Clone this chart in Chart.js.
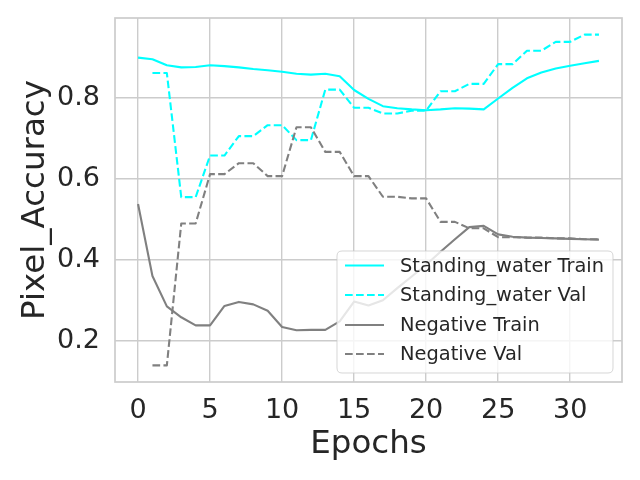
<!DOCTYPE html>
<html>
<head>
<meta charset="utf-8">
<script src="https://cdn.jsdelivr.net/npm/chart.js@4.4.1/dist/chart.umd.min.js"></script>
<style>
  html, body { margin: 0; padding: 0; background: #ffffff; }
  #c { display: block; }
</style>
</head>
<body>
<canvas id="c" width="640" height="480"></canvas>
<script>
const epochs = [0,1,2,3,4,5,6,7,8,9,10,11,12,13,14,15,16,17,18,19,20,21,22,23,24,25,26,27,28,29,30,31,32];
const valEpochs = [1,2,3,4,5,6,7,8,9,10,11,12,13,14,15,16,17,18,19,20,21,22,23,24,25,26,27,28,29,30,31,32];

const standingWaterTrain = [0.900,0.896,0.881,0.876,0.877,0.881,0.879,0.876,0.872,0.869,0.865,0.860,0.858,0.860,0.854,0.820,0.798,0.780,0.775,0.772,0.770,0.772,0.775,0.774,0.772,0.799,0.825,0.849,0.863,0.873,0.880,0.886,0.892];
const standingWaterVal = [0.862,0.862,0.555,0.555,0.658,0.658,0.706,0.706,0.733,0.733,0.696,0.696,0.821,0.821,0.776,0.776,0.762,0.762,0.769,0.769,0.817,0.817,0.835,0.835,0.884,0.884,0.917,0.917,0.939,0.939,0.957,0.957];
const negativeTrain = [0.538,0.360,0.285,0.258,0.238,0.238,0.286,0.296,0.290,0.274,0.234,0.226,0.227,0.227,0.248,0.297,0.287,0.300,0.330,0.359,0.388,0.420,0.451,0.481,0.484,0.463,0.457,0.455,0.454,0.453,0.452,0.451,0.450];
const negativeVal = [0.139,0.139,0.490,0.490,0.612,0.612,0.639,0.639,0.607,0.607,0.728,0.728,0.667,0.667,0.607,0.607,0.556,0.556,0.552,0.552,0.494,0.494,0.478,0.478,0.456,0.456,0.455,0.455,0.453,0.453,0.451,0.451];

const seriesLabels = ['Standing_water Train', 'Standing_water Val', 'Negative Train', 'Negative Val'];
const xTickValues = [0,5,10,15,20,25,30];
const yTickValues = [0.2,0.4,0.6,0.8];
const xTitle = 'Epochs';
const yTitle = 'Pixel_Accuracy';

const FONT = "'DejaVu Sans', 'Liberation Sans', sans-serif";
const TEXT = '#262626';
const GRID = '#cccccc';
const CYAN = '#00ffff';
const GRAY = '#808080';
const DASH = [7.7, 3.3];

function pts(xs, ys) { return xs.map((x, i) => ({ x: x, y: ys[i] })); }

const datasets = [
  { label: seriesLabels[0], data: pts(epochs, standingWaterTrain), borderColor: CYAN, borderDash: [], order: 4 },
  { label: seriesLabels[1], data: pts(valEpochs, standingWaterVal), borderColor: CYAN, borderDash: DASH, order: 3 },
  { label: seriesLabels[2], data: pts(epochs, negativeTrain), borderColor: GRAY, borderDash: [], order: 2 },
  { label: seriesLabels[3], data: pts(valEpochs, negativeVal), borderColor: GRAY, borderDash: DASH, order: 1 }
].map(d => Object.assign(d, {
  borderWidth: 2.1, pointRadius: 0, pointHoverRadius: 0, tension: 0, fill: false,
  borderJoinStyle: 'round', borderCapStyle: 'butt'
}));

const frameAndLegend = {
  id: 'frameAndLegend',
  afterDatasetsDraw(chart) {
    const ctx = chart.ctx;
    const a = chart.chartArea;
    ctx.save();
    ctx.strokeStyle = GRID;
    ctx.lineWidth = 1.7;
    ctx.strokeRect(a.left, a.top, a.right - a.left, a.bottom - a.top);

    // legend box (inside plot, lower right)
    const bx = 337, by = 251, bw = 276, bh = 122, r = 5;
    ctx.beginPath();
    ctx.moveTo(bx + r, by);
    ctx.lineTo(bx + bw - r, by);
    ctx.quadraticCurveTo(bx + bw, by, bx + bw, by + r);
    ctx.lineTo(bx + bw, by + bh - r);
    ctx.quadraticCurveTo(bx + bw, by + bh, bx + bw - r, by + bh);
    ctx.lineTo(bx + r, by + bh);
    ctx.quadraticCurveTo(bx, by + bh, bx, by + bh - r);
    ctx.lineTo(bx, by + r);
    ctx.quadraticCurveTo(bx, by, bx + r, by);
    ctx.closePath();
    ctx.fillStyle = 'rgba(255,255,255,0.8)';
    ctx.fill();
    ctx.strokeStyle = 'rgba(204,204,204,0.8)';
    ctx.lineWidth = 1;
    ctx.stroke();

    const rows = [265.5, 295, 325, 354];
    chart.data.datasets.forEach((ds, i) => {
      const y = rows[i];
      ctx.beginPath();
      ctx.setLineDash(ds.borderDash || []);
      ctx.strokeStyle = ds.borderColor;
      ctx.lineWidth = 2.1;
      ctx.moveTo(345, y);
      ctx.lineTo(384, y);
      ctx.stroke();
      ctx.setLineDash([]);
      ctx.fillStyle = TEXT;
      ctx.font = '19.4px ' + FONT;
      ctx.textAlign = 'left';
      ctx.textBaseline = 'middle';
      ctx.fillText(ds.label, 400, y + 1);
    });
    ctx.restore();
  }
};

new Chart(document.getElementById('c'), {
  type: 'line',
  data: { datasets: datasets },
  options: {
    responsive: false,
    animation: false,
    devicePixelRatio: 1,
    layout: { padding: { left: 0, top: 18, right: 18, bottom: 0 } },
    plugins: { legend: { display: false }, tooltip: { enabled: false } },
    scales: {
      x: {
        type: 'linear',
        min: -1.6,
        max: 33.6,
        afterBuildTicks: s => { s.ticks = xTickValues.map(v => ({ value: v })); },
        afterFit: s => { s.height = 98; s.paddingLeft = 0; s.paddingRight = 0; },
        grid: { color: GRID, lineWidth: 1.4, drawTicks: false },
        border: { display: false },
        ticks: {
          color: TEXT, font: { family: FONT, size: 27 }, padding: 13,
          maxRotation: 0, autoSkip: false,
          callback: v => String(v)
        },
        title: {
          display: true, text: xTitle, color: TEXT,
          font: { family: FONT, size: 32.5 }, padding: { top: 0, bottom: 16 }
        }
      },
      y: {
        type: 'linear',
        min: 0.098,
        max: 0.998,
        afterBuildTicks: s => { s.ticks = yTickValues.map(v => ({ value: v })); },
        afterFit: s => { s.width = 115; s.paddingTop = 0; s.paddingBottom = 0; },
        grid: { color: GRID, lineWidth: 1.4, drawTicks: false },
        border: { display: false },
        ticks: {
          color: TEXT, font: { family: FONT, size: 27 }, padding: 15,
          autoSkip: false,
          callback: v => Number(v).toFixed(1)
        },
        title: {
          display: true, text: yTitle, color: TEXT,
          font: { family: FONT, size: 32.5 }, padding: { top: 16, bottom: 0 }
        }
      }
    }
  },
  plugins: [frameAndLegend]
});
</script>
</body>
</html>
